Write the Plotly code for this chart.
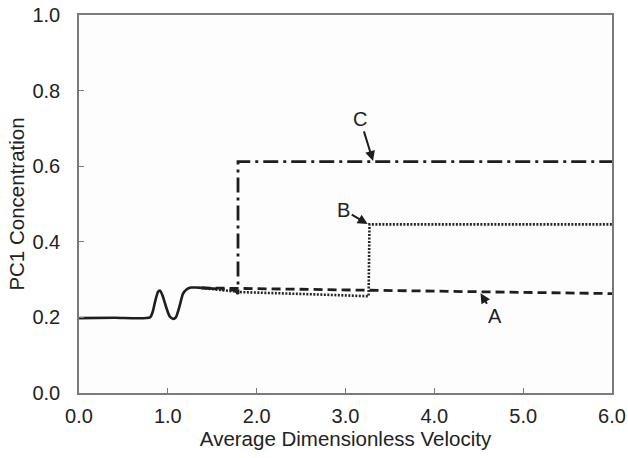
import plotly.graph_objects as go

# Common initial segment (all curves overlap)
x_common = [0.0, 0.40, 0.80, 0.83, 0.86, 0.89, 0.91, 0.94, 0.98, 1.02, 1.06, 1.09, 1.13, 1.17, 1.21, 1.26, 1.32, 1.38]
y_common = [0.198, 0.199, 0.200, 0.215, 0.245, 0.268, 0.271, 0.258, 0.228, 0.203, 0.196, 0.200, 0.228, 0.262, 0.274, 0.279, 0.279, 0.278]

# Curve A (dashed)
x_a = [1.38, 3.0, 6.0]
y_a = [0.278, 0.273, 0.263]

# Curve B (dotted)
x_b = [1.38, 1.81, 2.64, 3.22, 3.26, 3.27, 6.0]
y_b = [0.278, 0.267, 0.261, 0.256, 0.256, 0.446, 0.446]

# Curve C (dash-dot)
x_c = [1.38, 1.76, 1.79, 1.79, 6.0]
y_c = [0.278, 0.272, 0.262, 0.612, 0.612]

x_ticks = [0, 1, 2, 3, 4, 5, 6]
x_tick_labels = ["0.0", "1.0", "2.0", "3.0", "4.0", "5.0", "6.0"]
y_ticks = [0.0, 0.2, 0.4, 0.6, 0.8, 1.0]
y_tick_labels = ["0.0", "0.2", "0.4", "0.6", "0.8", "1.0"]

line_color = "#1e1e1e"
fig = go.Figure()
fig.add_trace(go.Scatter(x=x_common, y=y_common, mode="lines",
                         line=dict(color=line_color, width=2.6, shape="spline", smoothing=0.6)))
fig.add_trace(go.Scatter(x=x_a, y=y_a, mode="lines",
                         line=dict(color=line_color, width=2.8, dash="9px,5px")))
fig.add_trace(go.Scatter(x=x_b, y=y_b, mode="lines",
                         line=dict(color="#262626", width=2.6, dash="2px,1.5px")))
fig.add_trace(go.Scatter(x=x_c, y=y_c, mode="lines",
                         line=dict(color=line_color, width=2.8, dash="15px,5px,3px,5px")))

font = dict(family="Liberation Sans, Arial, sans-serif", size=20, color="#222222")
title_font = dict(family="Liberation Sans, Arial, sans-serif", size=20.5, color="#222222")
arrow = dict(showarrow=True, arrowhead=2, arrowsize=1, arrowwidth=2, arrowcolor="#1e1e1e",
             font=font, xref="x", yref="y", axref="pixel", ayref="pixel")
fig.add_annotation(x=3.31, y=0.614, text="C", ax=-13, ay=-42, **arrow)
fig.add_annotation(x=3.25, y=0.447, text="B", ax=-24, ay=-14, **arrow)
fig.add_annotation(x=4.52, y=0.264, text="A", ax=14, ay=23, **arrow)

axis_common = dict(showline=True, linecolor="#7a7a7a", linewidth=1.5, mirror=True,
                   ticks="inside", ticklen=5, tickcolor="#7a7a7a", tickwidth=1,
                   showgrid=False, zeroline=False, tickfont=font, automargin=False)
fig.update_xaxes(range=[0, 6], tickvals=x_ticks, ticktext=x_tick_labels,
                 ticklabelstandoff=4,
                 title=dict(text="Average Dimensionless Velocity", font=title_font, standoff=6),
                 **axis_common)
fig.update_yaxes(range=[0, 1], tickvals=y_ticks, ticktext=y_tick_labels,
                 ticklabelstandoff=13,
                 title=dict(text="PC1 Concentration", font=title_font, standoff=2),
                 **axis_common)
fig.update_layout(width=628, height=458, margin=dict(l=79, r=16, t=15, b=65),
                  paper_bgcolor="white", plot_bgcolor="#fdfdfd", showlegend=False,
                  font=font)
fig.write_html("out.html")
